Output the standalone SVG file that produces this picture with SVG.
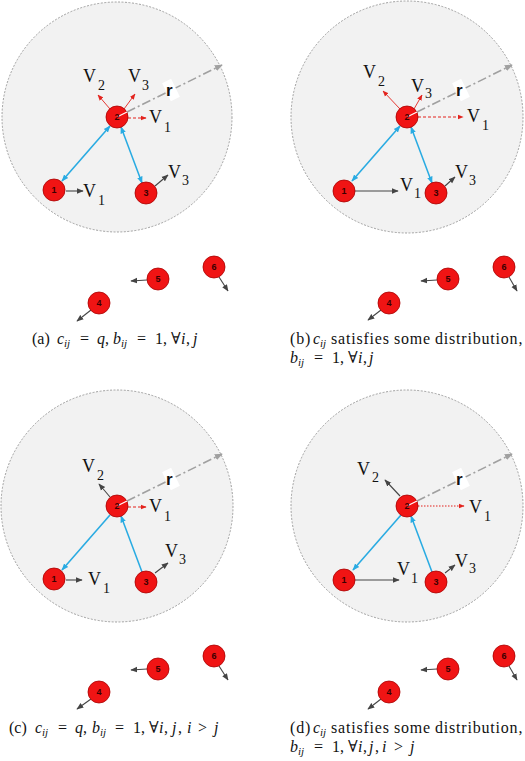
<svg xmlns="http://www.w3.org/2000/svg" width="525" height="761" viewBox="0 0 525 761">
<style>
.disk{fill:#f2f2f2;stroke:#8a8a8a;stroke-width:0.8;stroke-dasharray:2 1.5}
.nd{fill:#f01414;stroke:#a80000;stroke-width:0.8}
.nl{font-family:"Liberation Sans",Arial,sans-serif;font-size:9px;font-weight:bold;fill:#3a0000;text-anchor:middle}
.v{font-family:"Liberation Serif","DejaVu Serif",serif;font-size:18px;fill:#111}
.sub{font-size:14px}
.blk{stroke:#444;stroke-width:1.1;fill:none;marker-end:url(#mk)}
.red{stroke:#e3231d;stroke-width:0.9;fill:none;marker-end:url(#mr)}
.redd{stroke:#e3231d;stroke-width:1;fill:none;stroke-dasharray:3 2;marker-end:url(#mr)}
.redo{stroke:#e3231d;stroke-width:1;fill:none;stroke-dasharray:1.5 1.5;marker-end:url(#mr)}
.blu2{stroke:#29abe2;stroke-width:1.6;fill:none;marker-start:url(#mb);marker-end:url(#mb)}
.blu{stroke:#29abe2;stroke-width:1.6;fill:none;marker-end:url(#mb)}
.rad{stroke:#a0a0a0;stroke-width:1.6;fill:none;stroke-dasharray:9 3 2 3;marker-end:url(#mg)}
.radw{stroke:#fff;stroke-width:1.2}
.rl{font-family:"Liberation Sans",Arial,sans-serif;font-size:17px;font-weight:bold;fill:#111}
.cap{font-family:"Liberation Serif","DejaVu Serif",serif;font-size:16px;fill:#111}
.w{letter-spacing:0.8px}
.it{font-style:italic}
.cs{font-size:11px;font-style:italic}
</style>
<defs>
<marker id="mk" viewBox="0 0 10 10" refX="9" refY="5" markerWidth="7" markerHeight="7" markerUnits="userSpaceOnUse" orient="auto-start-reverse"><path d="M0,1 L10,5 L0,9 z" fill="#444"/></marker>
<marker id="mr" viewBox="0 0 10 10" refX="9" refY="5" markerWidth="6" markerHeight="6" markerUnits="userSpaceOnUse" orient="auto-start-reverse"><path d="M0,1 L10,5 L0,9 z" fill="#e3231d"/></marker>
<marker id="mb" viewBox="0 0 10 10" refX="9" refY="5" markerWidth="7" markerHeight="7" markerUnits="userSpaceOnUse" orient="auto-start-reverse"><path d="M0,1 L10,5 L0,9 z" fill="#29abe2"/></marker>
<marker id="mg" viewBox="0 0 10 10" refX="9" refY="5" markerWidth="8" markerHeight="8" markerUnits="userSpaceOnUse" orient="auto-start-reverse"><path d="M0,1 L10,5 L0,9 z" fill="#a0a0a0"/></marker>
</defs>

<!-- Panel (a) -->
<g id="panel-a">
<circle class="disk" cx="117" cy="117" r="115"/>
<g id="a-connectors">
<path class="rad" d="M127,112 L222,65"/>
<path class="blu2" d="M62,181 L110,126"/>
<path class="blu2" d="M121,127 L142,183"/>
<path class="red" d="M110,109 L98,95"/>
<path class="red" d="M124,109 L135,94"/>
<path class="redd" d="M128,118 L146,118"/>
<path class="blk" d="M66,191 L83,191"/>
<path class="blk" d="M155,186 L168,175"/>
<path class="blk" d="M91,310 L77,321"/>
<path class="blk" d="M147,280 L131,281"/>
<path class="blk" d="M219,277 L228,291"/>
</g>
<g id="a-node1"><circle class="nd" cx="54" cy="190" r="11"/><text class="nl" x="54" y="193">1</text></g>
<g id="a-node2"><circle class="nd" cx="117" cy="117" r="11"/><line class="radw" x1="117" y1="117" x2="127" y2="112"/><text class="nl" x="117" y="120">2</text></g>
<g id="a-node3"><circle class="nd" cx="146" cy="193" r="11"/><text class="nl" x="146" y="196">3</text></g>
<g id="a-node4"><circle class="nd" cx="99" cy="303" r="11"/><text class="nl" x="99" y="306">4</text></g>
<g id="a-node5"><circle class="nd" cx="158" cy="279" r="11"/><text class="nl" x="158" y="282">5</text></g>
<g id="a-node6"><circle class="nd" cx="214" cy="267" r="11"/><text class="nl" x="214" y="270">6</text></g>
<rect x="166" y="80" width="10" height="20" fill="#fff" transform="rotate(-26 171 90)"/>
<text class="rl" x="166" y="96">r</text>
<text class="v" x="83" y="82">V<tspan class="sub" dx="2" dy="8">2</tspan></text>
<text class="v" x="128" y="82">V<tspan class="sub" dx="1" dy="8">3</tspan></text>
<text class="v" x="149" y="123">V<tspan class="sub" dx="2" dy="9">1</tspan></text>
<text class="v" x="83" y="197">V<tspan class="sub" dx="2" dy="8">1</tspan></text>
<text class="v" x="168" y="178">V<tspan class="sub" dx="1" dy="7">3</tspan></text>
</g>

<!-- Panel (b) -->
<g id="panel-b" transform="translate(290,0)">
<circle class="disk" cx="117" cy="117" r="116"/>
<g id="b-connectors">
<path class="rad" d="M127,112 L222,65"/>
<path class="blu2" d="M62,181 L110,126"/>
<path class="blu2" d="M121,127 L142,183"/>
<path class="red" d="M110,109 L93,91"/>
<path class="red" d="M124,109 L132,95"/>
<path class="redd" d="M128,117 L173,117"/>
<path class="blk" d="M65,191 L108,191"/>
<path class="blk" d="M155,186 L165,177"/>
<path class="blk" d="M91,310 L78,320"/>
<path class="blk" d="M147,280 L131,281"/>
<path class="blk" d="M219,277 L227,291"/>
</g>
<g id="b-node1"><circle class="nd" cx="54" cy="191" r="11"/><text class="nl" x="54" y="194">1</text></g>
<g id="b-node2"><circle class="nd" cx="117" cy="117" r="11"/><line class="radw" x1="117" y1="117" x2="127" y2="112"/><text class="nl" x="117" y="120">2</text></g>
<g id="b-node3"><circle class="nd" cx="146" cy="193" r="11"/><text class="nl" x="146" y="196">3</text></g>
<g id="b-node4"><circle class="nd" cx="99" cy="303" r="11"/><text class="nl" x="99" y="306">4</text></g>
<g id="b-node5"><circle class="nd" cx="158" cy="279" r="11"/><text class="nl" x="158" y="282">5</text></g>
<g id="b-node6"><circle class="nd" cx="214" cy="267" r="11"/><text class="nl" x="214" y="270">6</text></g>
<rect x="166" y="80" width="10" height="20" fill="#fff" transform="rotate(-26 171 90)"/>
<text class="rl" x="166" y="96">r</text>
<text class="v" x="73" y="78">V<tspan class="sub" dx="2" dy="8">2</tspan></text>
<text class="v" x="121" y="92">V<tspan class="sub" dx="1" dy="6">3</tspan></text>
<text class="v" x="177" y="122">V<tspan class="sub" dx="2" dy="8">1</tspan></text>
<text class="v" x="110" y="191">V<tspan class="sub" dx="1" dy="7">1</tspan></text>
<text class="v" x="165" y="178">V<tspan class="sub" dx="1" dy="7">3</tspan></text>
</g>

<!-- Panel (c) -->
<g id="panel-c" transform="translate(0,389)">
<circle class="disk" cx="117" cy="117" r="116"/>
<g id="c-connectors">
<path class="rad" d="M127,112 L222,65"/>
<path class="blu" d="M110,126 L62,181"/>
<path class="blu" d="M142,183 L121,127"/>
<path class="blk" d="M110,108 L99,95"/>
<path class="redd" d="M128,118 L146,118"/>
<path class="blk" d="M66,191 L82,191"/>
<path class="blk" d="M155,184 L168,174"/>
<path class="blk" d="M91,310 L77,320"/>
<path class="blk" d="M147,280 L131,281"/>
<path class="blk" d="M219,277 L228,291"/>
</g>
<g id="c-node1"><circle class="nd" cx="54" cy="190" r="11"/><text class="nl" x="54" y="193">1</text></g>
<g id="c-node2"><circle class="nd" cx="117" cy="117" r="11"/><line class="radw" x1="117" y1="117" x2="127" y2="112"/><text class="nl" x="117" y="120">2</text></g>
<g id="c-node3"><circle class="nd" cx="146" cy="193" r="11"/><text class="nl" x="146" y="196">3</text></g>
<g id="c-node4"><circle class="nd" cx="99" cy="303" r="11"/><text class="nl" x="99" y="306">4</text></g>
<g id="c-node5"><circle class="nd" cx="158" cy="280" r="11"/><text class="nl" x="158" y="283">5</text></g>
<g id="c-node6"><circle class="nd" cx="214" cy="267" r="11"/><text class="nl" x="214" y="270">6</text></g>
<rect x="166" y="80" width="10" height="20" fill="#fff" transform="rotate(-26 171 90)"/>
<text class="rl" x="166" y="96">r</text>
<text class="v" x="82" y="83">V<tspan class="sub" dx="2" dy="8">2</tspan></text>
<text class="v" x="149" y="123">V<tspan class="sub" dx="2" dy="9">1</tspan></text>
<text class="v" x="88" y="196">V<tspan class="sub" dx="2" dy="8">1</tspan></text>
<text class="v" x="165" y="168">V<tspan class="sub" dx="1" dy="7">3</tspan></text>
</g>

<!-- Panel (d) -->
<g id="panel-d" transform="translate(290,389)">
<circle class="disk" cx="117" cy="117" r="116"/>
<g id="d-connectors">
<path class="rad" d="M127,112 L222,65"/>
<path class="blu" d="M111,126 L63,181"/>
<path class="blu" d="M142,183 L121,127"/>
<path class="blk" d="M110,107 L95,91"/>
<path class="redo" d="M128,117 L174,117"/>
<path class="blk" d="M65,191 L109,191"/>
<path class="blk" d="M155,184 L165,176"/>
<path class="blk" d="M91,310 L78,320"/>
<path class="blk" d="M147,280 L131,281"/>
<path class="blk" d="M219,277 L227,291"/>
</g>
<g id="d-node1"><circle class="nd" cx="54" cy="191" r="11"/><text class="nl" x="54" y="194">1</text></g>
<g id="d-node2"><circle class="nd" cx="117" cy="117" r="11"/><line class="radw" x1="117" y1="117" x2="127" y2="112"/><text class="nl" x="117" y="120">2</text></g>
<g id="d-node3"><circle class="nd" cx="146" cy="193" r="11"/><text class="nl" x="146" y="196">3</text></g>
<g id="d-node4"><circle class="nd" cx="99" cy="303" r="11"/><text class="nl" x="99" y="306">4</text></g>
<g id="d-node5"><circle class="nd" cx="158" cy="280" r="11"/><text class="nl" x="158" y="283">5</text></g>
<g id="d-node6"><circle class="nd" cx="214" cy="267" r="11"/><text class="nl" x="214" y="270">6</text></g>
<rect x="166" y="80" width="10" height="20" fill="#fff" transform="rotate(-26 171 90)"/>
<text class="rl" x="166" y="96">r</text>
<text class="v" x="67" y="86">V<tspan class="sub" dx="2" dy="7">2</tspan></text>
<text class="v" x="179" y="124">V<tspan class="sub" dx="2" dy="8">1</tspan></text>
<text class="v" x="107" y="186">V<tspan class="sub" dx="1" dy="8">1</tspan></text>
<text class="v" x="165" y="178">V<tspan class="sub" dx="1" dy="6">3</tspan></text>
</g>

<!-- Captions -->
<g id="captions">
<text class="cap" y="344"><tspan x="32">(a)</tspan><tspan x="57" class="it">c</tspan><tspan x="64" dy="3" class="cs">ij</tspan><tspan x="80" dy="-3">=</tspan><tspan x="97" class="it">q</tspan><tspan x="105">,</tspan><tspan x="113" class="it">b</tspan><tspan x="121" dy="3" class="cs">ij</tspan><tspan x="137" dy="-3">=</tspan><tspan x="155">1,</tspan><tspan x="171">∀</tspan><tspan x="181" class="it">i</tspan><tspan x="186">,</tspan><tspan x="193" class="it">j</tspan></text>

<text class="cap" y="344"><tspan x="290" class="w">(b)</tspan><tspan x="313" class="it">c</tspan><tspan x="320" dy="3" class="cs">ij</tspan><tspan x="331" dy="-3" class="w">satisfies</tspan><tspan x="394" class="w">some</tspan><tspan x="435" class="w">distribution,</tspan></text>
<text class="cap" y="363"><tspan x="290" class="it">b</tspan><tspan x="298" dy="3" class="cs">ij</tspan><tspan x="314" dy="-3">=</tspan><tspan x="332">1,</tspan><tspan x="348">∀</tspan><tspan x="358" class="it">i</tspan><tspan x="363">,</tspan><tspan x="369" class="it">j</tspan></text>

<text class="cap" y="733"><tspan x="9">(c)</tspan><tspan x="35" class="it">c</tspan><tspan x="42" dy="3" class="cs">ij</tspan><tspan x="58" dy="-3">=</tspan><tspan x="75" class="it">q</tspan><tspan x="83">,</tspan><tspan x="92" class="it">b</tspan><tspan x="100" dy="3" class="cs">ij</tspan><tspan x="115" dy="-3">=</tspan><tspan x="133">1,</tspan><tspan x="149">∀</tspan><tspan x="159" class="it">i</tspan><tspan x="164">,</tspan><tspan x="172" class="it">j</tspan><tspan x="178">,</tspan><tspan x="187" class="it">i</tspan><tspan x="198">&gt;</tspan><tspan x="214" class="it">j</tspan></text>

<text class="cap" y="733"><tspan x="290" class="w">(d)</tspan><tspan x="313" class="it">c</tspan><tspan x="320" dy="3" class="cs">ij</tspan><tspan x="331" dy="-3" class="w">satisfies</tspan><tspan x="394" class="w">some</tspan><tspan x="435" class="w">distribution,</tspan></text>
<text class="cap" y="752"><tspan x="290" class="it">b</tspan><tspan x="298" dy="3" class="cs">ij</tspan><tspan x="314" dy="-3">=</tspan><tspan x="332">1,</tspan><tspan x="348">∀</tspan><tspan x="358" class="it">i</tspan><tspan x="363">,</tspan><tspan x="369" class="it">j</tspan><tspan x="375">,</tspan><tspan x="382" class="it">i</tspan><tspan x="394">&gt;</tspan><tspan x="410" class="it">j</tspan></text>
</g>
</svg>
